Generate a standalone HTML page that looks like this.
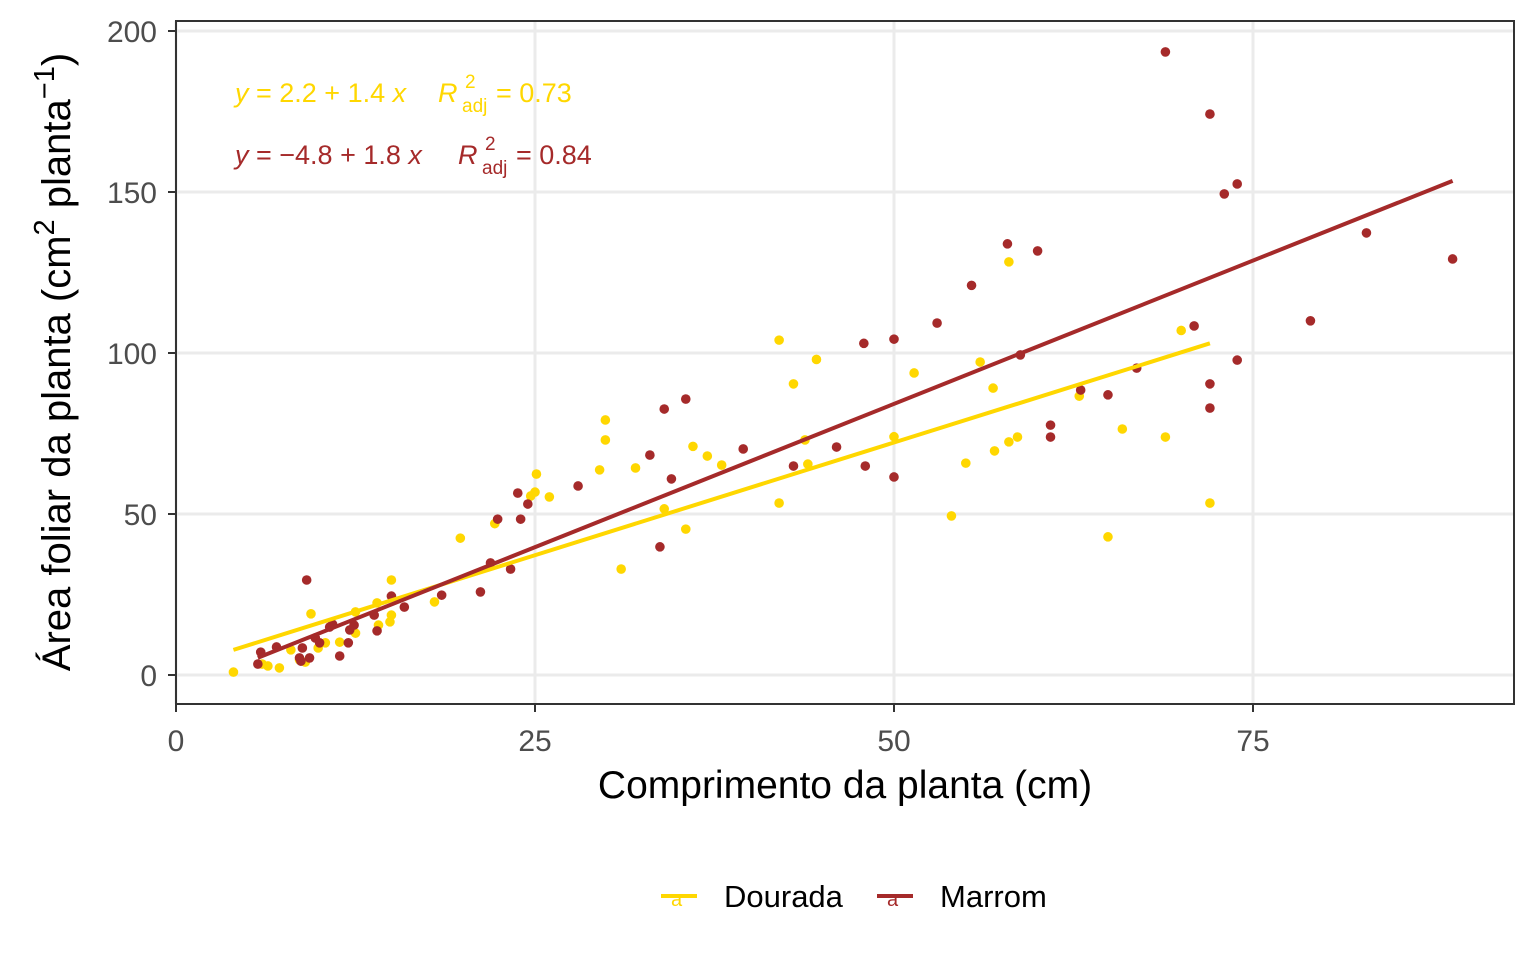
<!DOCTYPE html>
<html><head><meta charset="utf-8"><style>
html,body{margin:0;padding:0;background:#fff;}
svg{display:block;font-family:"Liberation Sans",sans-serif;}
</style></head><body>
<svg id="chart" width="1536" height="960" viewBox="0 0 1536 960"></svg>
<script>
const xTicks=[0,25,50,75];
const yTicks=[0,50,100,150,200];
const douradaX=[4.0,6.0,6.4,7.2,8.0,8.6,9.0,9.4,9.9,10.4,11.4,12.5,12.5,14.0,14.1,14.9,15.0,15.0,18.0,19.8,22.2,24.7,25.0,25.1,26.0,29.5,29.9,29.9,31.0,32.0,34.0,35.5,36.0,37.0,38.0,42.0,42.0,43.0,43.8,44.0,44.6,50.0,51.4,54.0,55.0,56.0,56.9,57.0,58.0,58.0,58.6,62.9,64.9,65.9,68.9,70.0,72.0];
const douradaY=[0.9,3.4,2.8,2.2,7.8,4.7,4.0,19.0,8.4,10.0,10.2,19.6,13.0,22.4,15.5,16.5,29.5,18.6,22.7,42.5,47.0,55.6,56.8,62.4,55.3,63.7,79.2,73.0,32.9,64.3,51.6,45.3,71.0,68.0,65.2,104.0,53.4,90.4,73.0,65.5,98.0,74.0,93.8,49.4,65.8,97.2,89.1,69.6,128.3,72.4,73.9,86.6,42.9,76.4,73.9,107.0,53.4];
const marromX=[5.9,5.7,7.0,8.6,8.7,8.8,9.1,9.3,9.7,10.0,10.7,10.9,11.4,12.0,12.1,12.4,13.8,14.0,15.0,15.9,18.5,21.2,21.9,22.4,23.3,23.8,24.0,24.5,28.0,33.0,33.7,34.0,34.5,35.5,39.5,43.0,46.0,47.9,48.0,50.0,50.0,53.0,55.4,57.9,58.8,60.0,60.9,60.9,63.0,64.9,66.9,68.9,70.9,72.0,72.0,72.0,73.0,73.9,73.9,79.0,82.9,88.9];
const marromY=[7.1,3.4,8.7,5.3,4.3,8.4,29.5,5.3,11.5,10.0,14.9,15.8,5.9,10.0,14.0,15.5,18.6,13.7,24.5,21.1,24.8,25.8,34.8,48.4,32.9,56.5,48.4,53.1,58.7,68.3,39.8,82.6,60.9,85.7,70.2,64.9,70.8,103.0,64.9,104.3,61.5,109.3,121.0,133.9,99.4,131.7,77.6,73.9,88.5,87.0,95.3,193.5,108.4,174.2,90.4,82.9,149.4,152.5,97.8,110.0,137.3,129.2];
const douradaFit=[2.2,1.4];
const marromFit=[-4.8,1.78];

const NS="http://www.w3.org/2000/svg";
const svg=document.getElementById('chart');
const L=176,T=21,R=1514,B=704;
const sx=v=>176+v*14.36;
const sy=v=>675-v*3.22;
function mk(tag,attrs,parent){const e=document.createElementNS(NS,tag);for(const k in attrs)e.setAttribute(k,attrs[k]);(parent||svg).appendChild(e);return e;}

const grid=mk('g',{});


xTicks.forEach(t=>{const l=mk('line',{x1:sx(t),x2:sx(t),y1:T,y2:B,stroke:'#ebebeb','stroke-width':3},grid);

});
yTicks.forEach(t=>{const l=mk('line',{x1:L,x2:R,y1:sy(t),y2:sy(t),stroke:'#ebebeb','stroke-width':3},grid);

});

function series(xs,ys,color,name){
  const g=mk('g',{});
  
  
  xs.forEach((x,i)=>{const c=mk('circle',{cx:sx(x),cy:sy(ys[i]),r:4.8,fill:color},g);
  
  });
}
function fit(xs,f,color,name){
  const x0=Math.min(...xs),x1=Math.max(...xs);
  const l=mk('line',{x1:sx(x0),y1:sy(f[0]+f[1]*x0),x2:sx(x1),y2:sy(f[0]+f[1]*x1),stroke:color,'stroke-width':4});
  
  
}
series(douradaX,douradaY,'#ffd700','dourada');
series(marromX,marromY,'#a52a2a','marrom');
fit(douradaX,douradaFit,'#ffd700','dourada');
fit(marromX,marromFit,'#a52a2a','marrom');

const border=mk('rect',{x:L,y:T,width:R-L,height:B-T,fill:'none',stroke:'#333','stroke-width':2});



xTicks.forEach(t=>{mk('line',{x1:sx(t),x2:sx(t),y1:B,y2:B+8,stroke:'#333','stroke-width':2});
const tx=mk('text',{x:sx(t),y:751,'text-anchor':'middle','font-size':30,fill:'#4d4d4d'});tx.textContent=t;

});
yTicks.forEach(t=>{mk('line',{x1:L-8,x2:L,y1:sy(t),y2:sy(t),stroke:'#333','stroke-width':2});
const tx=mk('text',{x:157,y:sy(t)+11,'text-anchor':'end','font-size':30,fill:'#4d4d4d'});tx.textContent=t;

});
</script>
<svg style="position:absolute;left:0;top:0" width="1536" height="960">
<g font-family="Liberation Sans, sans-serif">
<text x="845" y="798" text-anchor="middle" font-size="39" fill="#000">Comprimento da planta (cm)</text>
<text transform="translate(70,362) rotate(-90)" text-anchor="middle" font-size="40" fill="#000">Área foliar da planta (cm<tspan dy="-16" font-size="29">2</tspan><tspan dy="16"> planta</tspan><tspan dy="-16" font-size="29">−1</tspan><tspan dy="16">)</tspan></text>
<g font-size="27" fill="#ffd700">
<text x="235" y="102"><tspan font-style="italic">y</tspan> = 2.2 + 1.4 <tspan font-style="italic">x</tspan></text>
<text x="438" y="102" font-style="italic">R</text><text x="465" y="88" font-size="19">2</text><text x="462" y="112" font-size="19">adj</text><text x="496" y="102">= 0.73</text>
</g>
<g font-size="27" fill="#a52a2a">
<text x="235" y="164"><tspan font-style="italic">y</tspan> = −4.8 + 1.8 <tspan font-style="italic">x</tspan></text>
<text x="458" y="164" font-style="italic">R</text><text x="485" y="150" font-size="19">2</text><text x="482" y="174" font-size="19">adj</text><text x="516" y="164">= 0.84</text>
</g>
<g font-size="31">
<g>
<line x1="661" y1="896" x2="697" y2="896" stroke="#ffd700" stroke-width="4"/>
<text x="671" y="906" font-size="20" fill="#ffd700">a</text>
<text x="724" y="907" fill="#000">Dourada</text></g>
<g>
<line x1="877" y1="896" x2="913" y2="896" stroke="#a52a2a" stroke-width="4"/>
<text x="887" y="906" font-size="20" fill="#a52a2a">a</text>
<text x="940" y="907" fill="#000">Marrom</text></g>
</g>
</g>
</svg>
</body></html>
